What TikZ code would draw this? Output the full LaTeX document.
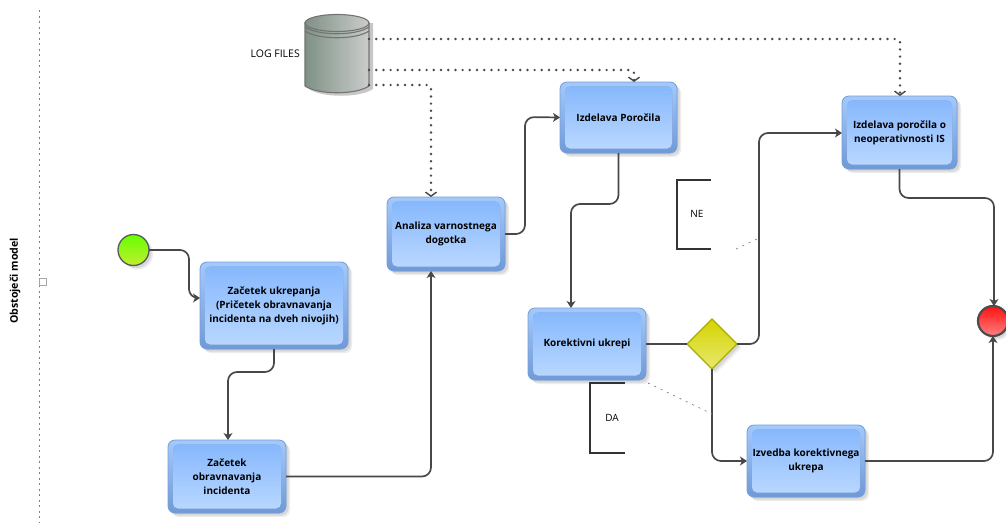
\documentclass[tikz,border=0pt]{standalone}
\usepackage{fontspec}
\setmainfont{Open Sans}
\usetikzlibrary{arrows.meta,shadows,shapes.geometric,calc}
\definecolor{flowc}{HTML}{484848}
\definecolor{edgeb}{HTML}{74A0DC}
\definecolor{edged}{HTML}{7099D6}
\definecolor{edgel}{HTML}{A4C9FA}
\definecolor{blue1}{HTML}{87B8FD}
\definecolor{blue2}{HTML}{B8D7FF}
\definecolor{cyl1}{HTML}{7F9186}
\definecolor{cyl2}{HTML}{CBCDCB}
\definecolor{yellowe}{HTML}{ABAB00}
\definecolor{yellow1}{HTML}{D4D400}
\definecolor{yellow2}{HTML}{E8E870}
\definecolor{startc1}{HTML}{66FF00}
\definecolor{startc2}{HTML}{C0EE30}
\definecolor{endc1}{HTML}{FF1010}
\definecolor{endc2}{HTML}{FF8080}
\tikzset{
  softshadow/.style={drop shadow={opacity=.14,shadow xshift=4pt,shadow yshift=-4pt},drop shadow={opacity=.2,shadow xshift=2.5pt,shadow yshift=-2.5pt}},
  taskbox/.style={rectangle,rounded corners=7pt,draw=edgeb,line width=.8pt,fill=edged,outer sep=0pt,inner sep=0pt,
    align=center,font=\fontsize{10}{14}\selectfont\bfseries,softshadow,
    path picture={
      \fill[top color=edgel,bottom color=edged]
        (path picture bounding box.south west) rectangle (path picture bounding box.north east);
      \fill[rounded corners=5pt,top color=blue1,bottom color=blue2]
        ($(path picture bounding box.north west)+(5,4.5)$) rectangle ($(path picture bounding box.south east)+(-5,-4.5)$);
    }},
  flow/.style={draw=flowc,line width=1.7pt,rounded corners=9pt,-{Stealth[length=7pt,width=9pt,inset=2pt]}},
  plainflow/.style={draw=flowc,line width=1.7pt,rounded corners=9pt},
  dotflow/.style={draw=flowc,line width=2.7pt,line cap=round,dash pattern=on 0pt off 7.2pt,rounded corners=3pt,
    -{Straight Barb[length=4pt,width=11pt,line width=1.4pt]}},
  assoc/.style={draw=gray,line width=.7pt,dash pattern=on 2pt off 5pt},
  bracket/.style={draw=black!80,line width=1.2pt},
  plainlabel/.style={font=\fontsize{10}{12}\selectfont,inner sep=0pt},
}
\begin{document}
\begin{tikzpicture}[x=1pt,y=-1pt]
\useasboundingbox (0,0) rectangle (1006,522);
\fill[white] (0,0) rectangle (1006,522);

% lane
\coordinate (laneT) at (39,10);
\coordinate (laneB) at (39,522);
\draw[draw=gray,line width=.8pt,dash pattern=on 2pt off 3.5pt] (laneT) -- (laneB);
\node[draw=gray!70,line width=.6pt,fill=white,minimum size=7pt,inner sep=0pt] (lanebox) at (43,282) {};
\node[rotate=90,font=\fontsize{10.6}{12}\selectfont\bfseries,inner sep=0pt] (lanelabel) at (15,281) {Obstoječi model};

% cylinder
\node[minimum width=64pt,minimum height=79pt,inner sep=0pt,outer sep=0pt] (logs) at (337,53.5) {};
\fill[black,opacity=.22] (309,23) -- (373,23) -- (373,89) .. controls (360,98) and (322,98) .. (309,89) -- cycle;
\draw[draw=black!55,line width=1.1pt,left color=cyl1,right color=cyl2]
  (305,23) -- (305,86) .. controls (318,95) and (356,95) .. (369,86) -- (369,23) -- cycle;
\draw[draw=black!55,line width=1.1pt,left color=cyl1,right color=cyl2] (337,23) ellipse[x radius=32,y radius=8.5];
\draw[draw=black!55,line width=1.1pt] (305,27) .. controls (318,36) and (356,36) .. (369,27);
\draw[draw=black!55,line width=1.1pt] (305,31) .. controls (318,40) and (356,40) .. (369,31);
\node[plainlabel,anchor=east,font=\fontsize{10.5}{12}\selectfont] (logslabel) at (300,53.5) {LOG FILES};

% tasks
\node[taskbox,minimum width=148pt,minimum height=87pt] (ukrep) at (274,305.5) {Začetek ukrepanja\\(Pričetek obravnavanja\\incidenta na dveh nivojih)};
\node[taskbox,minimum width=118pt,minimum height=73pt] (obrav) at (227,476.5) {Začetek\\obravnavanja\\incidenta};
\node[taskbox,minimum width=118pt,minimum height=74pt] (analiza) at (446,234) {Analiza varnostnega\\dogotka};
\node[taskbox,minimum width=117pt,minimum height=71pt] (porocila) at (618.5,117.5) {Izdelava Poročila};
\node[taskbox,minimum width=118pt,minimum height=72pt] (korekt) at (587,344) {Korektivni ukrepi};
\node[taskbox,minimum width=118pt,minimum height=72pt] (izvedba) at (806,461) {Izvedba korektivnega\\ukrepa};
\node[taskbox,minimum width=115pt,minimum height=73pt] (neop) at (899.5,132.5) {Izdelava poročila o\\neoperativnosti IS};

% gateway and events
\node[diamond,aspect=1,minimum width=50pt,minimum height=50pt,inner sep=0pt,outer sep=0pt,draw=yellowe,line width=1.2pt,top color=yellow1,bottom color=yellow2,softshadow] (gate) at (712,344) {};
\node[circle,minimum size=31pt,inner sep=0pt,outer sep=0pt,draw=black!65,line width=1.3pt,top color=startc1,bottom color=startc2,softshadow] (start) at (133.5,250) {};
\node[circle,minimum size=30pt,inner sep=0pt,outer sep=0pt,draw=black!70,line width=2.2pt,top color=endc1,bottom color=endc2,softshadow] (finish) at (993,321) {};

% connectors
\draw[flow] (start.east) -| (189,298) -- (ukrep.west |- 0,298);
\draw[flow] (ukrep.south) |- (228,372) -- (228,372 |- obrav.north);
\draw[flow] (obrav.east) -| (431,271 |- analiza.south);
\draw[flow] (analiza.east) -| (525,117) -- (porocila.west);
\draw[flow] (porocila.south) |- (571,204) -- (571,204 |- korekt.north);
\draw[plainflow] (korekt.east) -- (gate.west);
\draw[flow] (gate.east) -| (759,133) -- (neop.west |- 0,133);
\draw[flow] (gate.south) |- (izvedba.west);
\draw[flow] (izvedba.east) -| (finish.south);
\draw[flow] (neop.south) |- (994,198) -- (994,198 |- finish.north);

\draw[dotflow] (logs.east |- 0,39) -| (900,96 |- neop.north);
\draw[dotflow] (logs.east |- 0,70) -| (634,82 |- porocila.north);
\draw[dotflow] (logs.east |- 0,85) -| (431,197 |- analiza.north);

% annotations
\coordinate (neT) at (711,180);
\coordinate (neB) at (711,249);
\draw[bracket] (neT) -- (677,180) -- (677,249) -- (neB);
\node[plainlabel] (nelabel) at (697,214) {NE};
\coordinate (neA) at (736,249);
\coordinate (neF) at (759,238);
\draw[assoc] (neA) -- (neF);
\coordinate (daT) at (625,383);
\coordinate (daB) at (625,453);
\draw[bracket] (daT) -- (590,383) -- (590,453) -- (daB);
\node[plainlabel] (dalabel) at (612,418) {DA};
\coordinate (daA) at (648,383);
\coordinate (daF) at (712,414);
\draw[assoc] (daA) -- (daF);
\end{tikzpicture}
\end{document}
